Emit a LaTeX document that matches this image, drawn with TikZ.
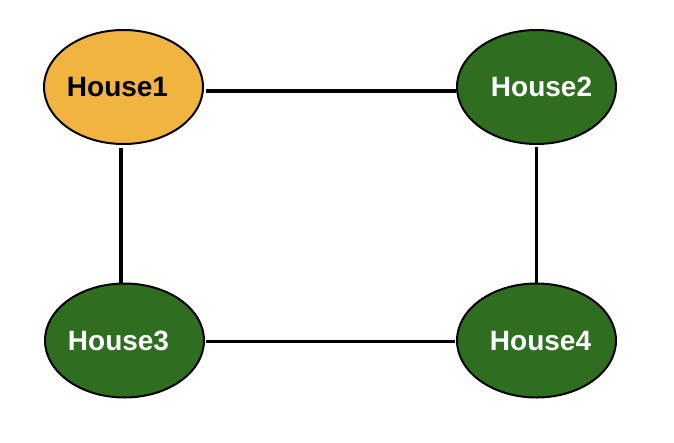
\documentclass[tikz,border=0pt]{standalone}
\usepackage{fontspec}
\setmainfont{Liberation Sans}
\usetikzlibrary{shapes.geometric}
\definecolor{hOrange}{RGB}{242,180,65}
\definecolor{hGreen}{RGB}{47,110,32}
\tikzset{
  house/.style={ellipse, draw=black, line width=2pt, minimum width=159pt, minimum height=114pt, inner sep=0pt, font=\fontsize{28}{30}\selectfont\bfseries},
  orangehouse/.style={house, fill=hOrange, text=black},
  greenhouse/.style={house, fill=hGreen, text=white},
  conn/.style={draw=black, line width=3.5pt}
}
\begin{document}
\begin{tikzpicture}[x=1pt,y=-1pt]
\useasboundingbox (0,0) rectangle (674,442);
\node[orangehouse] (h1) at (123.5,87) {\raisebox{-2pt}{\hspace*{-12pt}House1}};
\node[greenhouse] (h2) at (536.5,87) {\raisebox{-2pt}{House2\hspace*{-10pt}}};
\node[greenhouse] (h3) at (124.5,340.5) {\raisebox{-1pt}{\hspace*{-12pt}House3}};
\node[greenhouse] (h4) at (536.5,340.5) {\raisebox{-1pt}{House4\hspace*{-8pt}}};
\draw[conn] ([shift={(2pt,-4pt)}]h1.east) -- ([shift={(0pt,-4pt)}]h2.west);
\draw[conn] ([shift={(-2.5pt,-3pt)}]h1.south) -- ([xshift=-2.5pt]h1.south |- h3.north);
\draw[conn] ([shift={(0pt,-2pt)}]h2.south) -- (h4.north);
\draw[conn] ([shift={(1pt,-1pt)}]h3.east) -- ([shift={(-1pt,-1pt)}]h4.west);
\end{tikzpicture}
\end{document}
